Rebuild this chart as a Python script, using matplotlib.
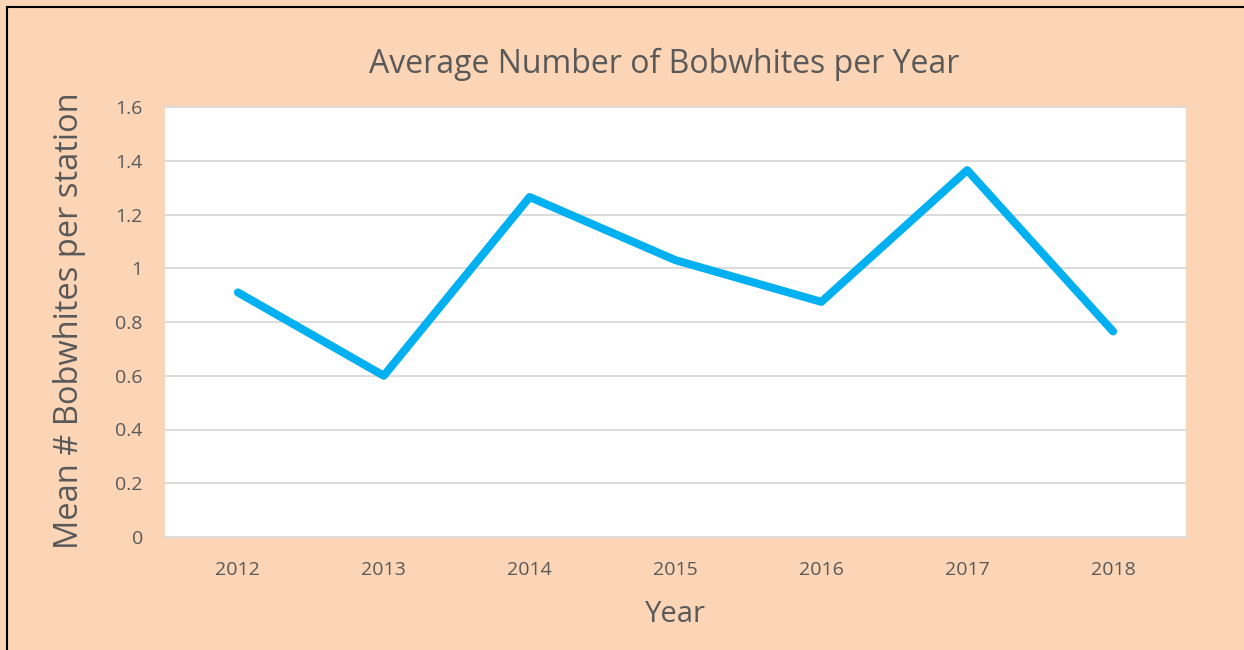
import matplotlib
matplotlib.use("Agg")
import matplotlib.pyplot as plt

years = ["2012", "2013", "2014", "2015", "2016", "2017", "2018"]
mean_bobwhites = [0.91, 0.60, 1.265, 1.03, 0.875, 1.365, 0.765]
yticks = [0, 0.2, 0.4, 0.6, 0.8, 1.0, 1.2, 1.4, 1.6]
ytick_labels = ["0", "0.2", "0.4", "0.6", "0.8", "1", "1.2", "1.4", "1.6"]

W, H = 1244, 650
bg = "#FBD5B5"
txt = "#595959"
plt.rcParams['font.family'] = ['Open Sans', 'DejaVu Sans']

fig = plt.figure(figsize=(W / 100, H / 100), dpi=100)
fig.patch.set_facecolor(bg)

# frame lines (top, left)
fig.add_artist(plt.Line2D([7 / W, 7 / W], [0, 1 - 7 / H], color="black", lw=1.5, transform=fig.transFigure))
fig.add_artist(plt.Line2D([7 / W, 1], [1 - 7 / H, 1 - 7 / H], color="black", lw=1.5, transform=fig.transFigure))

left, right, top, bottom = 165, 1186, 107, 537
ax = fig.add_axes([left / W, 1 - bottom / H, (right - left) / W, (bottom - top) / H])
ax.set_facecolor("white")
x = list(range(len(years)))
ax.plot(x, mean_bobwhites, color="#00B0F0", lw=5.8, solid_capstyle="round", solid_joinstyle="round", zorder=3)
ax.set_xlim(-0.5, len(years) - 0.5)
ax.set_ylim(0, 1.6)
ax.set_yticks(yticks)
ax.set_yticklabels(ytick_labels)
ax.set_xticks(x)
ax.set_xticklabels(years)
ax.grid(axis="y", color="#D9D9D9", lw=1.3, clip_on=False)
ax.set_axisbelow(True)
for s in ax.spines.values():
    s.set_visible(False)
ax.tick_params(axis="both", length=0, colors=txt, labelsize=14)
ax.tick_params(axis="y", pad=16)
ax.tick_params(axis="x", pad=17)

fig.text(664 / W, 1 - 64 / H, "Average Number of Bobwhites per Year", ha="center", va="center", fontsize=23, color=txt)
fig.text(70 / W, 1 - 321 / H, "Mean # Bobwhites per station", ha="center", va="center", rotation=90, fontsize=23.5, color=txt)
fig.text(675 / W, 1 - 614 / H, "Year", ha="center", va="center", fontsize=21, color=txt)

fig.savefig("out.png", dpi=100, facecolor=bg)
